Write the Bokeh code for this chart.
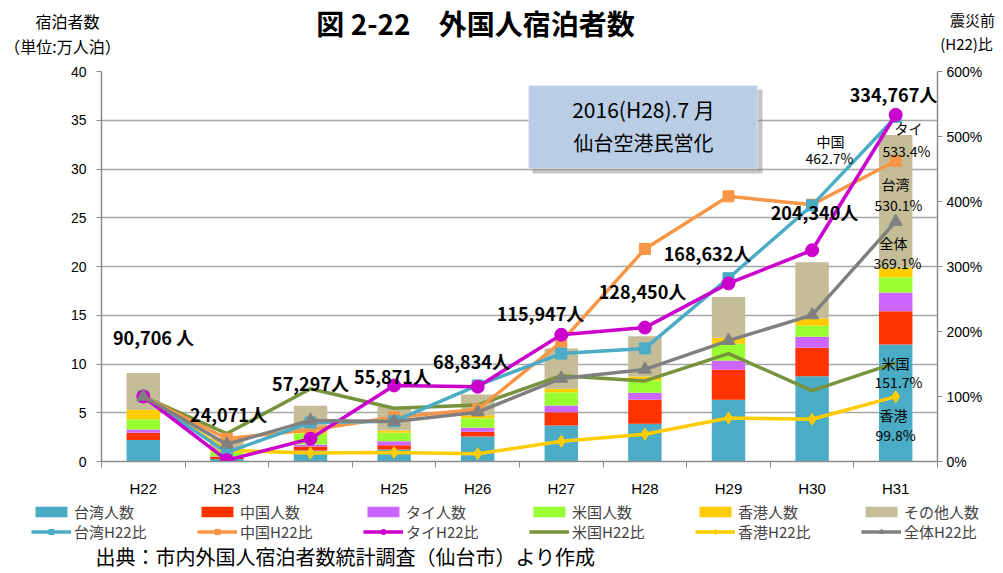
from bokeh.plotting import figure
from bokeh.layouts import column
from bokeh.models import (Range1d, LinearAxis, FixedTicker, Legend, LegendItem,
                          Label, BoxAnnotation, ColumnDataSource)
from bokeh.embed import file_html
from bokeh.resources import INLINE

# ---------------- data ----------------
years = ["H22", "H23", "H24", "H25", "H26", "H27", "H28", "H29", "H30", "H31"]
total_people = [90706, 24071, 57297, 55871, 68834, 115947, 128450, 168632, 204340, 334767]

# stacked bars (万人泊)
tw_n = [2.20, 0.25, 1.13, 1.23, 2.56, 3.69, 3.86, 6.33, 8.75, 12.00]
cn_n = [0.75, 0.25, 0.41, 0.44, 0.49, 1.37, 2.47, 3.08, 2.91, 3.42]
th_n = [0.33, 0.05, 0.20, 0.41, 0.41, 0.68, 0.72, 0.95, 1.13, 1.91]
us_n = [1.05, 0.40, 1.13, 0.86, 0.98, 1.37, 1.26, 1.71, 1.13, 1.57]
hk_n = [0.97, 0.20, 0.30, 0.24, 0.30, 0.35, 0.41, 0.61, 0.75, 0.97]
ot_n = [3.77, 1.26, 2.56, 2.41, 2.14, 4.13, 4.13, 4.18, 5.76, 13.61]

# ratios vs H22 (%)
tw_p = [100, 14, 60, 62, 117, 166, 174, 282, 394, 530.1]
cn_p = [100, 35, 49, 68, 80, 184, 327, 408, 395, 462.7]
th_p = [100, 2, 35, 117, 115, 195, 206, 274, 325, 533.4]
us_p = [100, 43, 112, 82, 87, 132, 124, 166, 109, 151.7]
hk_p = [100, 17, 13, 14, 12, 31, 42, 67, 65, 99.8]
all_p = [100, 26.5, 63.2, 61.6, 75.9, 127.8, 141.6, 185.9, 225.3, 369.1]

bar_names = ["台湾人数", "中国人数", "タイ人数", "米国人数", "香港人数", "その他人数"]
line_names = ["台湾H22比", "中国H22比", "タイH22比", "米国H22比", "香港H22比", "全体H22比"]
bar_colors = ["#4BACC6", "#FF3300", "#CC66FF", "#99FF33", "#FFCC00", "#C4BD97"]
line_colors = ["#4BACC6", "#F79646", "#CC00CC", "#77933C", "#FFCC00", "#808080"]
markers = ["square", "square", "circle", "", "diamond", "triangle"]
msizes = [11, 11, 13, 0, 12, 13]

left_ticks = [0, 5, 10, 15, 20, 25, 30, 35, 40]
right_ticks = [0, 100, 200, 300, 400, 500, 600]

JP = "Noto Sans CJK JP"
SANS = "Liberation Sans"
W = 1000
TOP_H = 57
MAIN_H = 442
BOT_H = 73

bar_series = [tw_n, cn_n, th_n, us_n, hk_n, ot_n]
pcts = [tw_p, cn_p, th_p, us_p, hk_p, all_p]
xs = list(range(len(years)))


def bare_fig(h):
    f = figure(width=W, height=h, output_backend="svg", toolbar_location=None,
               x_range=Range1d(0, W), y_range=Range1d(h, 0),
               x_axis_type=None, y_axis_type=None,
               min_border_left=0, min_border_right=0, min_border_top=0, min_border_bottom=0)
    f.outline_line_color = None
    f.grid.visible = False
    f.frame_align = False
    return f


def add_label(f, text, x, y, size, bold=False, align="center"):
    f.add_layout(Label(x=x, y=y, text=text, text_align=align, text_baseline="middle",
                       text_font=JP, text_font_size=size, text_color="#000000",
                       text_font_style="bold" if bold else "normal"))


# ---------------- header ----------------
hdr = bare_fig(TOP_H)
add_label(hdr, "図 2-22　外国人宿泊者数", 475, 22, "28px", bold=True)
add_label(hdr, "宿泊者数", 67, 20, "16px")
add_label(hdr, "（単位:万人泊）", 62, 45, "16px")
add_label(hdr, "震災前", 972, 19, "15px")
add_label(hdr, "(H22)比", 966, 43, "15px")

# ---------------- main figure ----------------
src = ColumnDataSource(dict(x=xs, tw=tw_n, cn=cn_n, th=th_n, us=us_n, hk=hk_n, ot=ot_n))

p = figure(width=W, height=MAIN_H, output_backend="svg", toolbar_location=None,
           x_range=Range1d(-0.5, 9.5), y_range=Range1d(0, 40),
           min_border_left=101, min_border_right=W - 937, min_border_top=71 - TOP_H,
           min_border_bottom=TOP_H + MAIN_H - 461)
p.frame_align = False
p.extra_y_ranges = {"pct": Range1d(0, 600)}
p.outline_line_color = None

p.yaxis.ticker = FixedTicker(ticks=left_ticks)
p.yaxis.major_label_text_font = SANS
p.yaxis.major_label_text_font_size = "14px"
p.yaxis.major_label_text_color = "#000000"
p.yaxis.axis_line_color = "#8C8C8C"
p.yaxis.axis_line_width = 1.5
p.yaxis.major_tick_line_color = "#8C8C8C"
p.yaxis.major_tick_out = 5
p.yaxis.major_tick_in = 0
p.yaxis.minor_tick_line_color = None
p.yaxis.major_label_standoff = 10

ra = LinearAxis(y_range_name="pct", ticker=FixedTicker(ticks=right_ticks),
                major_label_overrides={t: f"{t}%" for t in right_ticks})
ra.major_label_text_font = SANS
ra.major_label_text_font_size = "14px"
ra.major_label_text_color = "#000000"
ra.axis_line_color = "#8C8C8C"
ra.axis_line_width = 1.5
ra.major_tick_line_color = "#8C8C8C"
ra.major_tick_out = 5
ra.major_tick_in = 0
ra.minor_tick_line_color = None
ra.major_label_standoff = 4
p.add_layout(ra, "right")

p.xaxis.ticker = FixedTicker(ticks=xs, minor_ticks=[i - 0.5 for i in range(len(years) + 1)])
p.xaxis.major_label_overrides = {i: y for i, y in enumerate(years)}
p.xaxis.major_label_text_font = SANS
p.xaxis.major_label_text_font_size = "15px"
p.xaxis.major_label_text_color = "#000000"
p.xaxis.axis_line_color = "#8C8C8C"
p.xaxis.axis_line_width = 1.5
p.xaxis.major_tick_line_color = None
p.xaxis.major_tick_out = 0
p.xaxis.major_tick_in = 0
p.xaxis.minor_tick_line_color = "#8C8C8C"
p.xaxis.minor_tick_out = 6
p.xaxis.minor_tick_in = 0
p.xaxis.major_label_standoff = 12

p.xgrid.grid_line_color = None
p.ygrid.ticker = FixedTicker(ticks=left_ticks)
p.ygrid.grid_line_color = "#A6A6A6"
p.ygrid.grid_line_width = 1.5

p.vbar_stack(["tw", "cn", "th", "us", "hk", "ot"], x="x", width=0.4,
             color=bar_colors, line_color=None, source=src)

for idx in [3, 4, 1, 0, 2, 5]:
    p.line(xs, pcts[idx], y_range_name="pct", line_color=line_colors[idx], line_width=3.5)
    if markers[idx]:
        p.scatter(xs, pcts[idx], y_range_name="pct", marker=markers[idx],
                  size=msizes[idx], fill_color=line_colors[idx], line_color=line_colors[idx])


def px2x(px):
    return (px - 101) / 83.6 - 0.5


def py2y(py):
    return (461 - py) / 9.75


def lab(text, px, py, size, bold=False):
    add_label(p, text, px2x(px), py2y(py), size, bold)


total_pos = [(153, 336), (228, 413), (310, 382), (392, 375), (471, 360),
             (540, 312), (642, 290), (707, 252), (814, 211), (893, 93)]
for i, (tx, ty) in enumerate(total_pos):
    t = f"{total_people[i]:,} 人" if i == 0 else f"{total_people[i]:,}人"
    lab(t, tx, ty, "18px", bold=True)

ratio_labels = [("中国", 830, 140), (f"{cn_p[-1]}%", 829, 157),
                ("タイ", 908, 127), (f"{th_p[-1]}%", 906, 150),
                ("台湾", 895, 183), (f"{tw_p[-1]}%", 898, 204),
                ("全体", 893, 242), (f"{all_p[-1]}%", 897, 262),
                ("米国", 895, 362), (f"{us_p[-1]}%", 898, 381),
                ("香港", 893, 414), (f"{hk_p[-1]}%", 895, 434)]
for t, tx, ty in ratio_labels:
    lab(t, tx, ty, "14px")

p.add_layout(BoxAnnotation(left=px2x(532), right=px2x(762), top=py2y(89), bottom=py2y(173),
                           fill_color="#7F7F7F", fill_alpha=0.45, line_color=None))
p.add_layout(BoxAnnotation(left=px2x(528), right=px2x(757), top=py2y(85), bottom=py2y(168),
                           fill_color="#B9CDE5", fill_alpha=1, line_color="#FFFFFF",
                           line_width=1.5))
lab("2016(H28).7 月", 643, 108, "21px")
lab("仙台空港民営化", 643, 142, "20px")

# ---------------- bottom: legend + source ----------------
bot = bare_fig(BOT_H)
BOT_TOP = TOP_H + MAIN_H
bar_items, line_items = [], []
for i in range(6):
    r = bot.vbar(x=xs, top=bar_series[i], width=0.4, fill_color=bar_colors[i],
                 line_color=None, visible=False)
    bar_items.append(LegendItem(label=bar_names[i], renderers=[r]))
    rs = [bot.line(x=xs, y=pcts[i], line_color=line_colors[i], line_width=3.5, visible=False)]
    if markers[i]:
        rs.append(bot.scatter(x=xs, y=pcts[i], marker=markers[i], size=msizes[i] - 2,
                              fill_color=line_colors[i], line_color=line_colors[i],
                              visible=False))
    line_items.append(LegendItem(label=line_names[i], renderers=rs))


def make_legend(items, center_y_page):
    # location: bottom-left corner of the legend, measured up from the canvas bottom
    vy = BOT_H - (center_y_page - BOT_TOP + 10)
    return Legend(items=items, location=(31, vy), orientation="horizontal",
                  label_text_font=JP, label_text_font_size="15px",
                  glyph_width=40, glyph_height=13, label_standoff=3,
                  label_height=20, label_width=105, spacing=18,
                  padding=0, margin=0, border_line_color=None,
                  background_fill_alpha=0, click_policy="none")


bot.add_layout(make_legend(bar_items, 512))
bot.add_layout(make_legend(line_items, 532))
add_label(bot, "出典：市内外国人宿泊者数統計調査（仙台市）より作成", 95, 556 - BOT_TOP, "20px",
          align="left")

layout = column(hdr, p, bot, spacing=0)
open("out.html", "w").write(file_html(layout, INLINE))
